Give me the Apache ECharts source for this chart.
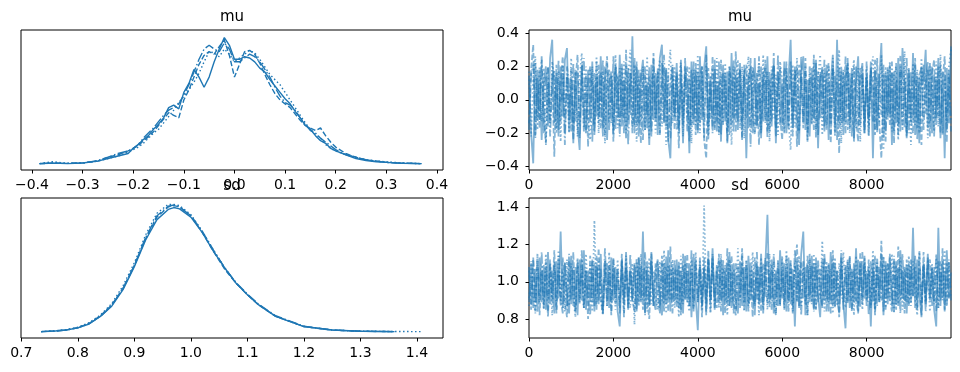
<!DOCTYPE html>
<html>
<head>
<meta charset="utf-8">
<script src="https://cdn.jsdelivr.net/npm/echarts@6/dist/echarts.min.js"></script>
<style>
  html, body { margin: 0; padding: 0; background: #fff; }
  #chart { width: 960px; height: 372px; }
</style>
</head>
<body>
<div id="chart"></div>
<script>
// ---- data ----
const muGrid = [-0.385,-0.36,-0.33,-0.3,-0.27,-0.25,-0.23,-0.21,-0.2,-0.19,-0.18,-0.17,-0.16,-0.15,-0.14,-0.13,-0.12,-0.11,-0.1,-0.09,-0.08,-0.07,-0.06,-0.05,-0.04,-0.03,-0.02,-0.01,0,0.01,0.02,0.03,0.04,0.05,0.06,0.07,0.08,0.09,0.1,0.11,0.12,0.13,0.14,0.15,0.16,0.17,0.18,0.19,0.2,0.22,0.24,0.26,0.28,0.3,0.33,0.37]
const muKdeA = [0,0.005,0,0.005,0.02,0.04,0.06,0.08,0.12,0.15,0.19,0.22,0.27,0.31,0.36,0.44,0.46,0.43,0.56,0.63,0.74,0.68,0.6,0.68,0.8,0.9,0.99,0.93,0.82,0.82,0.84,0.83,0.8,0.75,0.72,0.66,0.61,0.56,0.51,0.47,0.41,0.36,0.3,0.27,0.22,0.18,0.16,0.12,0.1,0.07,0.04,0.025,0.015,0.01,0.003,0]
const muKdeB = [0,0.003,0.002,0.006,0.02,0.05,0.07,0.1,0.12,0.14,0.18,0.21,0.25,0.3,0.35,0.4,0.38,0.36,0.5,0.58,0.68,0.78,0.85,0.88,0.86,0.92,0.97,0.85,0.68,0.78,0.88,0.89,0.86,0.79,0.7,0.62,0.55,0.5,0.47,0.44,0.39,0.34,0.3,0.28,0.26,0.28,0.22,0.17,0.13,0.08,0.05,0.03,0.02,0.01,0.004,0]
const muKdeC = [0,0.015,0.003,0.005,0.02,0.04,0.06,0.09,0.11,0.13,0.16,0.2,0.24,0.27,0.32,0.37,0.42,0.48,0.53,0.58,0.64,0.71,0.8,0.88,0.87,0.84,0.9,0.86,0.8,0.83,0.86,0.89,0.87,0.82,0.76,0.7,0.66,0.62,0.56,0.5,0.44,0.38,0.32,0.27,0.23,0.2,0.15,0.12,0.1,0.07,0.05,0.03,0.02,0.015,0.005,0]
const muKdeD = [0,0.004,0.002,0.004,0.025,0.05,0.08,0.1,0.12,0.15,0.2,0.24,0.28,0.33,0.38,0.42,0.44,0.47,0.54,0.62,0.72,0.82,0.9,0.93,0.9,0.88,0.95,0.9,0.8,0.8,0.83,0.86,0.84,0.8,0.74,0.68,0.6,0.53,0.48,0.46,0.42,0.36,0.31,0.26,0.24,0.2,0.17,0.14,0.11,0.07,0.05,0.03,0.02,0.01,0.003,0]

const sdGrid = [0.735,0.76,0.78,0.8,0.82,0.84,0.86,0.88,0.9,0.92,0.94,0.96,0.97,0.98,1.0,1.02,1.04,1.06,1.08,1.1,1.12,1.15,1.2,1.25,1.3,1.36,1.41]
const sdKdeA = [0,0.005,0.013,0.03,0.06,0.12,0.2,0.33,0.51,0.72,0.88,0.96,0.975,0.965,0.9,0.78,0.63,0.5,0.38,0.29,0.21,0.12,0.04,0.013,0.003,0,null]
const sdKdeB = [0,0.006,0.014,0.032,0.065,0.125,0.21,0.34,0.52,0.73,0.9,0.98,0.99,0.98,0.91,0.78,0.63,0.49,0.38,0.29,0.21,0.12,0.04,0.012,0.003,0,null]
const sdKdeC = [0,0.006,0.015,0.034,0.07,0.13,0.22,0.36,0.54,0.76,0.93,1.0,1.0,0.99,0.92,0.79,0.64,0.5,0.38,0.29,0.21,0.12,0.04,0.013,0.004,0.001,0]
const sdKdeD = [0,0.005,0.013,0.03,0.062,0.12,0.205,0.34,0.52,0.74,0.91,0.985,0.995,0.98,0.91,0.79,0.64,0.5,0.385,0.295,0.215,0.125,0.042,0.013,0.003,0,null]

// one value every ~50 draws, 4 chains
const muTraceA = [0.14,-0.2,-0.38,0.22,-0.12,0.18,-0.24,0.09,0.2,-0.16,
  0.25,0.36,-0.14,0.16,-0.22,0.2,-0.1,0.24,0.31,-0.19,
  0.12,-0.26,0.17,-0.15,-0.3,0.21,-0.08,-0.2,0.18,-0.13,
  0.23,-0.21,0.14,-0.1,0.26,-0.17,0.2,-0.24,0.11,0.17,
  -0.19,0.21,-0.11,0.27,-0.16,0.12,-0.23,0.19,-0.09,0.38,
  -0.15,0.2,-0.22,0.13,0.24,-0.18,0.1,-0.27,0.21,-0.12,
  0.16,-0.21,0.25,0.33,-0.14,0.19,-0.24,-0.35,0.15,-0.1,
  0.22,-0.17,0.13,-0.26,0.2,0.08,-0.32,0.23,-0.15,0.18,
  -0.2,0.26,-0.12,0.19,0.32,-0.22,0.14,-0.16,0.24,-0.19,
  0.11,-0.25,0.21,-0.13,0.17,-0.21,0.28,-0.11,0.15,-0.18,
  0.22,-0.14,0.18,-0.35,0.12,0.2,-0.2,0.25,-0.16,0.1,
  -0.23,0.17,-0.12,0.26,-0.19,0.14,0.21,-0.26,0.09,0.19,
  -0.15,0.23,-0.2,0.13,0.36,-0.17,0.2,-0.1,-0.27,0.16,
  0.26,-0.18,0.12,-0.22,0.19,-0.11,0.24,-0.29,0.14,0.18,
  -0.16,0.21,-0.24,0.1,0.27,-0.2,0.36,-0.14,0.17,-0.21,
  0.13,0.22,-0.17,0.19,-0.25,0.11,0.26,-0.15,0.2,-0.2,
  0.15,-0.12,0.23,-0.35,0.18,-0.18,0.12,0.34,-0.23,0.16,
  -0.1,0.21,-0.27,0.17,-0.14,0.25,-0.19,0.31,0.09,-0.22,
  0.18,-0.13,0.28,-0.21,0.14,-0.26,0.2,0.11,0.3,-0.17,
  0.22,-0.2,0.15,-0.11,0.25,-0.23,0.17,-0.35,0.19,-0.14,
  0.32]
const muTraceB = [-0.14,0.18,0.33,-0.21,0.13,-0.17,0.24,-0.1,-0.26,0.2,
  -0.13,0.16,-0.34,0.21,-0.18,0.11,0.26,-0.2,0.14,-0.12,
  0.19,-0.24,0.1,0.27,-0.16,0.2,-0.19,0.15,-0.28,0.18,
  0.09,-0.19,0.23,-0.14,0.17,-0.22,0.12,0.26,-0.18,0.14,
  -0.25,0.2,0.11,-0.16,0.22,-0.2,0.3,-0.12,0.16,-0.2,
  0.25,-0.15,0.18,-0.26,0.12,0.2,-0.17,0.14,-0.22,0.28,
  -0.11,0.17,-0.2,0.22,-0.13,0.18,-0.25,0.1,0.2,-0.18,
  0.15,-0.29,0.21,-0.1,0.25,-0.19,0.13,-0.16,0.23,-0.21,
  0.17,-0.14,0.2,-0.24,-0.35,0.19,-0.12,0.26,-0.18,0.11,
  -0.2,0.24,-0.15,0.16,-0.25,0.2,0.1,-0.19,0.29,-0.13,
  0.18,-0.23,0.14,0.21,-0.17,0.25,-0.1,-0.21,0.16,-0.27,
  0.2,-0.13,0.24,-0.19,0.12,-0.16,0.28,-0.22,0.17,-0.1,
  -0.24,0.19,0.15,-0.18,0.23,-0.12,0.18,-0.28,0.21,0.1,
  -0.17,0.25,-0.2,0.13,-0.14,0.27,-0.23,0.17,-0.11,0.2,
  -0.19,0.14,0.22,-0.26,0.18,-0.15,0.11,-0.32,0.2,-0.13,
  0.26,-0.18,0.16,-0.22,0.2,-0.11,-0.25,0.19,0.12,-0.2,
  0.23,-0.16,0.18,0.1,-0.21,0.25,-0.14,-0.35,0.15,-0.19,
  0.2,-0.1,0.17,-0.26,0.22,-0.15,0.27,-0.18,0.13,-0.23,
  0.19,-0.12,-0.2,0.25,-0.17,0.14,-0.27,0.21,-0.09,0.18,
  -0.22,0.16,0.24,-0.15,0.2,-0.2,0.11,0.26,-0.18,0.14,
  -0.2]
const muTraceC = [0.17,-0.22,0.14,0.26,-0.18,0.2,-0.13,0.19,-0.27,0.11,
  -0.16,0.23,0.12,-0.2,0.17,-0.25,0.21,-0.1,0.15,-0.2,
  0.25,-0.14,0.18,-0.22,0.13,0.28,-0.17,0.2,-0.11,-0.24,
  0.2,-0.15,0.26,-0.2,0.1,0.17,-0.26,0.22,-0.13,0.15,
  -0.21,0.27,-0.17,0.19,-0.1,0.23,-0.2,0.13,0.3,-0.16,
  0.21,-0.25,0.14,-0.13,0.2,-0.18,0.26,-0.23,0.11,0.18,
  -0.2,0.13,0.24,-0.16,0.19,-0.27,0.16,0.3,-0.14,0.2,
  -0.18,0.12,0.23,-0.22,0.15,-0.11,0.2,-0.26,0.18,-0.15,
  0.27,-0.2,0.17,-0.12,0.21,-0.24,0.13,0.19,-0.17,0.25,
  -0.21,0.14,-0.14,0.22,-0.19,0.16,-0.27,0.2,-0.1,0.24,
  -0.17,0.2,-0.23,0.13,0.26,-0.15,0.18,-0.2,0.11,0.22,
  -0.18,0.27,-0.14,0.17,-0.25,0.2,-0.11,0.15,-0.21,0.23,
  0.12,-0.19,0.19,-0.13,-0.3,0.21,-0.16,0.25,-0.2,0.14,
  -0.1,0.2,-0.24,0.17,-0.15,0.22,-0.19,0.12,0.27,-0.21,
  0.16,-0.18,0.2,-0.12,0.25,-0.22,0.14,0.3,-0.26,0.18,
  -0.14,0.21,-0.2,0.11,0.24,-0.17,0.19,-0.25,0.13,-0.11,
  0.2,-0.21,0.16,0.26,-0.18,0.13,-0.14,0.27,-0.3,0.2,
  -0.12,0.23,-0.19,0.15,0.2,-0.24,0.18,-0.16,0.29,-0.2,
  0.14,-0.27,0.22,-0.15,0.18,-0.2,0.25,-0.11,0.16,-0.23,
  0.2,0.09,-0.19,0.23,-0.16,0.27,-0.21,0.13,-0.14,0.2,
  0.3]
const muTraceD = [-0.18,0.15,0.21,-0.23,0.18,-0.12,0.26,-0.2,0.13,0.19,
  -0.22,0.1,0.18,-0.17,0.24,-0.14,0.16,-0.27,0.2,0.09,
  -0.19,0.22,-0.13,0.17,-0.23,0.14,0.25,-0.18,0.12,0.2,
  -0.25,0.16,-0.1,0.21,-0.17,0.24,-0.21,0.11,0.18,-0.14,
  0.26,-0.18,0.14,-0.22,0.19,-0.11,0.21,-0.27,0.16,0.1,
  -0.2,0.23,-0.14,0.18,-0.24,0.15,-0.09,0.2,-0.19,0.25,
  -0.13,0.19,-0.21,0.12,0.27,-0.17,0.15,-0.23,0.21,-0.1,
  0.17,-0.2,0.24,-0.15,0.13,0.2,-0.25,0.18,-0.12,0.22,
  -0.18,0.14,0.2,-0.23,0.27,-0.16,0.11,-0.2,0.19,-0.13,
  0.23,-0.21,0.16,0.1,-0.26,0.2,-0.15,0.24,-0.19,0.13,
  0.18,-0.24,0.21,-0.11,0.15,-0.28,0.2,0.12,-0.17,0.26,
  -0.2,0.14,0.19,-0.23,0.17,-0.13,0.22,-0.18,0.27,-0.15,
  0.11,-0.2,0.23,-0.16,0.18,-0.22,0.13,0.2,-0.19,0.26,
  -0.14,0.17,-0.25,0.2,0.1,-0.18,0.22,-0.21,0.16,-0.11,
  0.24,-0.17,0.12,-0.21,0.19,0.14,-0.24,0.2,-0.14,0.17,
  -0.2,0.25,-0.12,0.16,-0.23,0.2,-0.16,0.13,0.22,-0.18,
  0.14,-0.22,0.19,-0.13,0.24,-0.2,0.16,-0.09,0.21,-0.25,
  0.18,-0.15,0.23,-0.19,0.12,-0.21,0.2,0.15,-0.17,0.25,
  -0.2,0.17,-0.12,0.21,-0.24,0.15,0.19,-0.18,0.11,0.23,
  -0.16,0.2,-0.22,0.14,-0.1,0.22,-0.2,0.16,-0.25,0.18,
  -0.13]

const sdTraceA = [0.9,1.1,0.86,1.07,0.84,1.13,0.89,1.09,0.85,1.16,
  0.88,1.06,0.83,1.11,0.91,1.27,0.86,1.1,0.92,0.83,
  1.14,0.87,1.08,0.82,1.12,0.9,1.17,0.85,1.06,0.89,
  1.12,0.84,1.09,0.88,1.15,0.83,1.05,1.1,0.86,1.13,
  0.9,1.08,0.84,0.76,1.12,0.88,1.16,0.85,1.07,0.91,
  1.1,0.84,1.13,0.89,1.27,0.83,1.08,0.87,1.15,0.9,
  0.85,1.11,0.92,0.82,1.1,0.88,1.17,0.84,1.08,0.9,
  1.12,0.86,1.06,0.83,1.14,0.89,1.1,0.81,1.15,0.91,
  0.74,1.11,0.87,1.07,0.84,1.13,0.9,1.18,0.85,1.09,
  0.89,1.12,0.82,1.06,0.88,1.16,0.86,1.1,0.91,0.83,
  1.11,0.87,1.08,0.84,1.14,0.9,1.06,0.82,1.1,0.88,
  1.15,0.85,1.09,1.36,0.89,1.12,0.83,1.06,0.87,1.17,
  0.91,1.1,0.84,1.13,0.88,1.07,0.76,1.11,0.86,1.15,
  1.27,0.82,1.09,0.89,1.14,0.85,1.1,0.92,0.81,1.12,
  0.9,1.08,0.84,1.16,0.87,1.1,0.91,0.83,1.13,0.88,
  0.75,1.11,0.86,1.07,0.89,1.18,0.84,1.1,0.91,1.14,
  0.87,1.06,0.76,1.12,0.85,1.09,0.9,1.15,0.82,1.11,
  0.88,1.13,0.93,0.84,1.11,0.87,1.17,0.91,1.08,0.83,
  1.1,0.89,1.29,0.86,1.12,0.92,0.82,1.1,0.88,1.15,
  0.9,1.08,0.85,0.76,1.29,0.87,1.11,0.84,1.17,0.91,
  1.05]
const sdTraceB = [1.08,0.85,1.12,0.89,1.15,0.82,1.06,0.88,1.11,0.84,
  1.1,0.91,1.17,0.83,1.07,0.87,1.13,0.9,0.81,1.11,
  0.88,1.16,0.84,1.09,0.91,1.12,0.86,1.06,0.8,1.14,
  0.89,1.1,0.85,1.18,0.9,0.83,1.11,0.87,1.08,0.82,
  1.13,0.91,1.07,0.86,1.15,0.81,1.1,0.88,1.06,0.9,
  0.84,1.12,0.89,1.09,0.85,1.16,0.91,0.8,1.11,0.87,
  1.1,0.93,0.83,1.14,0.88,1.08,0.84,1.19,0.9,1.07,
  0.86,1.11,0.82,1.09,0.91,1.15,0.87,1.06,0.85,1.12,
  0.89,1.08,0.81,1.13,0.88,1.17,0.84,1.1,0.92,0.86,
  1.15,0.9,1.07,0.83,1.1,0.87,1.14,0.89,0.82,1.09,
  0.91,1.18,0.85,1.11,0.88,1.06,0.81,1.13,0.9,1.08,
  0.84,1.1,0.92,1.16,0.86,1.09,0.89,0.82,1.12,0.88,
  1.07,0.85,1.14,0.9,1.1,0.83,1.06,1.2,0.87,1.11,
  0.91,1.08,0.82,1.15,0.89,1.1,0.85,1.12,0.93,0.87,
  1.13,0.84,1.09,0.9,1.17,0.86,1.06,0.81,1.11,0.89,
  1.08,0.88,1.14,0.85,1.1,0.91,0.83,1.16,0.88,1.1,
  0.9,1.12,0.86,1.07,0.82,1.13,0.89,1.22,0.84,1.09,
  0.91,1.15,0.87,1.11,0.85,1.19,0.9,1.06,0.83,1.12,
  0.88,1.09,0.92,1.14,0.86,1.1,0.81,1.16,0.89,1.07,
  1.12,0.87,1.08,0.84,1.11,0.9,1.18,0.85,1.1,0.91,
  0.95]
const sdTraceC = [0.87,1.11,0.92,0.83,1.14,0.89,1.09,0.85,1.15,0.91,
  1.08,0.82,1.11,0.88,1.17,0.9,1.06,0.84,1.12,0.87,
  1.1,0.91,0.81,1.13,0.89,1.07,0.86,1.15,0.9,1.09,
  0.84,1.33,0.88,1.11,0.93,0.82,1.12,0.87,1.16,0.9,
  1.06,0.85,1.12,0.89,1.09,0.83,1.14,0.91,0.86,1.1,
  0.77,1.12,0.87,1.15,0.9,1.08,0.84,1.13,0.88,1.06,
  0.92,0.85,1.11,0.89,1.17,0.83,1.09,0.9,1.12,0.86,
  1.07,0.81,1.14,0.88,1.1,0.91,0.84,1.12,0.87,1.16,
  0.89,1.08,0.85,1.41,0.9,1.11,0.83,1.13,0.88,1.06,
  0.86,1.15,0.91,1.09,0.82,1.12,0.89,1.07,0.85,1.18,
  0.9,1.1,0.84,1.12,0.87,0.93,1.16,0.88,1.08,0.82,
  1.13,0.89,1.09,0.85,1.15,0.91,1.11,0.83,1.06,0.88,
  1.12,0.86,1.17,0.9,1.07,0.84,1.1,0.89,1.14,0.87,
  1.08,0.91,0.82,1.12,0.88,1.15,0.85,1.09,0.9,1.22,
  0.84,1.11,0.89,1.07,0.83,1.13,0.87,1.1,0.91,1.16,
  0.86,1.12,0.9,1.06,0.82,1.14,0.88,1.09,0.85,1.13,
  0.91,1.08,0.87,1.17,0.84,1.11,0.89,0.93,1.14,0.86,
  1.1,0.9,1.15,0.83,1.09,0.88,1.13,0.85,1.07,0.89,
  1.14,0.87,1.11,0.91,0.82,1.16,0.88,1.08,0.9,1.12,
  0.84,1.1,0.89,1.13,0.86,1.06,0.91,1.17,0.87,1.11,
  0.92]
const sdTraceD = [1.06,0.88,1.13,0.84,1.1,0.9,1.16,0.86,1.07,0.81,
  1.12,0.89,1.09,0.85,1.14,0.91,0.83,1.11,0.87,1.15,
  0.9,1.08,0.84,1.12,0.88,1.17,0.86,1.06,0.91,0.82,
  1.11,0.87,1.14,0.9,1.07,0.85,1.18,0.89,1.09,0.84,
  1.12,0.88,1.06,0.83,1.11,0.91,1.08,0.86,1.15,0.89,
  1.09,0.85,1.13,0.9,1.07,0.82,1.11,0.88,1.16,0.87,
  1.06,1.12,0.86,1.1,0.84,1.14,0.91,1.07,0.83,1.12,
  0.89,1.09,0.85,1.15,0.9,1.06,0.87,1.17,0.84,1.1,
  0.91,1.13,0.88,1.08,0.82,1.12,0.89,1.15,0.86,1.07,
  1.11,0.84,1.12,0.9,1.18,0.87,1.06,0.83,1.1,0.91,
  0.86,1.14,0.89,1.09,0.84,1.12,0.92,0.87,1.16,0.9,
  1.08,0.83,1.13,0.88,1.06,0.85,1.15,0.91,1.1,0.87,
  1.14,0.89,1.07,0.84,1.12,0.87,1.17,0.9,1.06,0.82,
  1.11,0.88,1.14,0.91,1.09,0.84,1.13,0.89,1.07,0.86,
  1.15,0.9,1.1,0.83,1.12,0.87,1.06,0.91,1.17,0.85,
  1.09,0.89,1.13,0.84,1.07,0.88,1.12,0.86,1.16,0.91,
  1.06,0.82,1.11,0.89,1.14,0.87,1.08,0.9,1.13,0.85,
  1.1,0.91,0.84,1.14,0.88,1.07,0.83,1.15,0.9,1.09,
  0.87,1.12,0.92,1.08,0.85,1.17,0.89,1.1,0.84,1.13,
  0.91,1.07,0.88,1.15,0.86,1.11,0.9,1.06,0.87,1.12,
  0.9]

const lastDraw = 9999
const muKdeTicks = [-0.4,-0.3,-0.2,-0.1,0,0.1,0.2,0.3,0.4]
const sdKdeTicks = [0.7,0.8,0.9,1.0,1.1,1.2,1.3,1.4]
const drawTicks = [0,2000,4000,6000,8000]
const muTraceTicks = [-0.4,-0.2,0,0.2,0.4]
const sdTraceTicks = [0.8,1.0,1.2,1.4]

// ---- styling ----
const blue = '#1f77b4'
const dashStyles = ['solid', [5.5, 2.4], [1.5, 2.5], [9.6, 2.4, 1.5, 2.4]]
const font = 'DejaVu Sans'
const minus = v => v.toFixed(1).replace('-', '\u2212')

const grids = [
  {left: 21, top: 30, width: 422, height: 140},
  {left: 529, top: 30, width: 422, height: 140},
  {left: 21, top: 198, width: 422, height: 140},
  {left: 529, top: 198, width: 422, height: 140}
].map(g => ({...g, show: true, borderColor: '#000', borderWidth: 1, backgroundColor: '#fff'}))

function xAx(gi, min, max, ticks, fmt) {
  return {
    type: 'value', gridIndex: gi, min, max,
    axisLine: {show: false, onZero: false},
    splitLine: {show: false},
    axisTick: {show: true, length: 3.5, lineStyle: {color: '#000', width: 1}, customValues: ticks},
    axisLabel: {color: '#000', fontSize: 14, fontFamily: font, margin: 8.5, customValues: ticks, formatter: fmt}
  }
}
function yKde(gi) {
  return {type: 'value', gridIndex: gi, min: -0.05, max: 1.05,
    axisLine: {show: false, onZero: false}, axisTick: {show: false}, axisLabel: {show: false}, splitLine: {show: false}}
}
function yTrace(gi, min, max, ticks) {
  return {
    type: 'value', gridIndex: gi, min, max,
    axisLine: {show: false, onZero: false},
    splitLine: {show: false},
    axisTick: {show: true, length: 3.5, lineStyle: {color: '#000', width: 1}, customValues: ticks},
    axisLabel: {color: '#000', fontSize: 14, fontFamily: font, margin: 10, customValues: ticks, formatter: minus}
  }
}

const pairs = (xs, ys) => ys.map((y, i) => [xs[i], y])
const drawIdx = ys => ys.map((_, i) => i * lastDraw / (ys.length - 1))

const series = []
;[muKdeA, muKdeB, muKdeC, muKdeD].forEach((ys, c) => series.push({
  type: 'line', xAxisIndex: 0, yAxisIndex: 0, showSymbol: false, silent: true,
  data: pairs(muGrid, ys), lineStyle: {color: blue, width: 1.4, type: dashStyles[c]}
}))
;[muTraceA, muTraceB, muTraceC, muTraceD].forEach((ys, c) => series.push({
  type: 'line', xAxisIndex: 1, yAxisIndex: 1, showSymbol: false, silent: true,
  data: pairs(drawIdx(ys), ys), lineStyle: {color: blue, width: 1.8, opacity: 0.55, type: dashStyles[c]}
}))
;[sdKdeA, sdKdeB, sdKdeC, sdKdeD].forEach((ys, c) => series.push({
  type: 'line', xAxisIndex: 2, yAxisIndex: 2, showSymbol: false, silent: true, connectNulls: false,
  data: pairs(sdGrid, ys), lineStyle: {color: blue, width: 1.4, type: dashStyles[c]}
}))
;[sdTraceA, sdTraceB, sdTraceC, sdTraceD].forEach((ys, c) => series.push({
  type: 'line', xAxisIndex: 3, yAxisIndex: 3, showSymbol: false, silent: true,
  data: pairs(drawIdx(ys), ys), lineStyle: {color: blue, width: 1.8, opacity: 0.55, type: dashStyles[c]}
}))

const titleText = (x, y, t) => ({
  type: 'text', x, y, silent: true, z: 100,
  style: {text: t, fill: '#000', fontSize: 15, fontFamily: font, textAlign: 'center', textVerticalAlign: 'middle'}
})

const option = {
  animation: false,
  backgroundColor: '#fff',
  grid: grids,
  xAxis: [
    xAx(0, -0.4217, 0.412, muKdeTicks, minus),
    xAx(1, 0, lastDraw, drawTicks, v => String(v)),
    xAx(2, 0.6995, 1.446, sdKdeTicks, minus),
    xAx(3, 0, lastDraw, drawTicks, v => String(v))
  ],
  yAxis: [
    yKde(0),
    yTrace(1, -0.42, 0.418, muTraceTicks),
    yKde(2),
    yTrace(3, 0.698, 1.4505, sdTraceTicks)
  ],
  series,
  graphic: [
    titleText(232, 17, 'mu'),
    titleText(740, 17, 'mu'),
    titleText(232, 186, 'sd'),
    titleText(740, 186, 'sd')
  ]
}

const chart = echarts.init(document.getElementById('chart'), null, {renderer: 'canvas'})
chart.setOption(option)
</script>
</body>
</html>
